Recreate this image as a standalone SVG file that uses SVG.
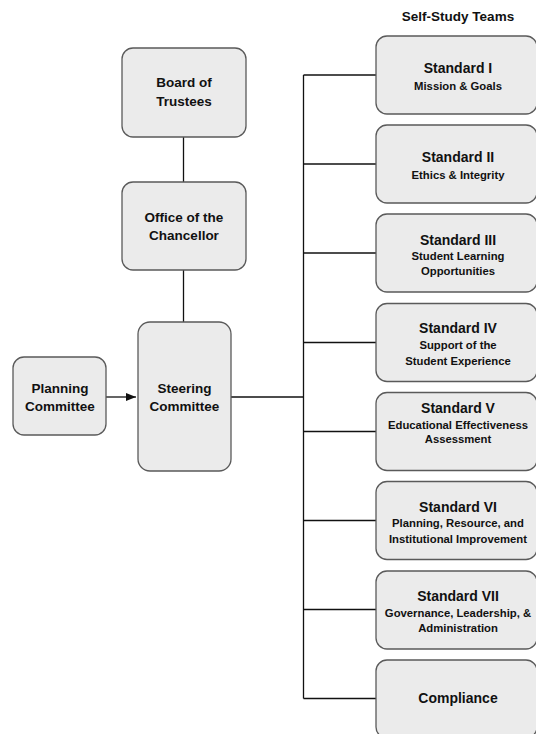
<svg xmlns="http://www.w3.org/2000/svg" width="536" height="734" viewBox="0 0 536 734">
<style>
.box{fill:#ebebeb;stroke:#5a5a5a;stroke-width:1.3}
.t{font-family:"Liberation Sans",Arial,sans-serif;font-weight:bold;fill:#111;text-anchor:middle}
.m{font-size:13.5px}
.h{font-size:14px}
.s{font-size:11.3px}
.c{fill:none;stroke:#111;stroke-width:1.3}
</style>
<defs>
<marker id="arr" markerWidth="12" markerHeight="10" refX="10" refY="4" orient="auto" markerUnits="userSpaceOnUse">
<path d="M0,0 L10,4 L0,8 Z" fill="#111"/>
</marker>
</defs>
<rect width="536" height="734" fill="#fff"/>
<text class="t" x="458" y="20.5" font-size="13.5">Self-Study Teams</text>
<g id="connectors">
<path class="c" d="M183.5,137 V182"/>
<path class="c" d="M183.5,270 V322"/>
<path class="c" d="M106,397 H136" marker-end="url(#arr)"/>
<path class="c" d="M231,397 H303.5"/>
<path class="c" d="M303.5,75 V698.5"/>
<path class="c" d="M303.5,75 H376"/>
<path class="c" d="M303.5,164 H376"/>
<path class="c" d="M303.5,253 H376"/>
<path class="c" d="M303.5,342.5 H376"/>
<path class="c" d="M303.5,431.5 H376"/>
<path class="c" d="M303.5,520.5 H376"/>
<path class="c" d="M303.5,609.5 H376"/>
<path class="c" d="M303.5,698.5 H376"/>
</g>
<g id="board">
<rect class="box" x="122" y="48" width="124" height="89" rx="11"/>
<text class="t m" x="184" y="87.3">Board of</text>
<text class="t m" x="184" y="106">Trustees</text>
</g>
<g id="chancellor">
<rect class="box" x="122" y="182" width="124" height="88" rx="11"/>
<text class="t m" x="184" y="221.7">Office of the</text>
<text class="t m" x="184" y="240">Chancellor</text>
</g>
<g id="steering">
<rect class="box" x="138" y="322" width="93" height="149" rx="12"/>
<text class="t m" x="184.5" y="393.3">Steering</text>
<text class="t m" x="184.5" y="411">Committee</text>
</g>
<g id="planning">
<rect class="box" x="13" y="357" width="93" height="78" rx="11"/>
<text class="t m" x="60" y="393.3">Planning</text>
<text class="t m" x="60" y="411">Committee</text>
</g>
<g id="std1">
<rect class="box" x="376" y="36" width="161" height="78" rx="11"/>
<text class="t h" x="458" y="73.3">Standard I</text>
<text class="t s" x="458" y="90">Mission &amp; Goals</text>
</g>
<g id="std2">
<rect class="box" x="376" y="125" width="161" height="78" rx="11"/>
<text class="t h" x="458" y="162.3">Standard II</text>
<text class="t s" x="458" y="179.3">Ethics &amp; Integrity</text>
</g>
<g id="std3">
<rect class="box" x="376" y="214" width="161" height="78" rx="11"/>
<text class="t h" x="458" y="245">Standard III</text>
<text class="t s" x="458" y="260">Student Learning</text>
<text class="t s" x="458" y="274.5">Opportunities</text>
</g>
<g id="std4">
<rect class="box" x="376" y="303.5" width="161" height="78" rx="11"/>
<text class="t h" x="458" y="333.3">Standard IV</text>
<text class="t s" x="458" y="349">Support of the</text>
<text class="t s" x="458" y="365">Student Experience</text>
</g>
<g id="std5">
<rect class="box" x="376" y="392.5" width="161" height="78" rx="11"/>
<text class="t h" x="458" y="413.3">Standard V</text>
<text class="t s" x="458" y="429">Educational Effectiveness</text>
<text class="t s" x="458" y="443.3">Assessment</text>
</g>
<g id="std6">
<rect class="box" x="376" y="481.5" width="161" height="78" rx="11"/>
<text class="t h" x="458" y="511.7">Standard VI</text>
<text class="t s" x="458" y="527.3">Planning, Resource, and</text>
<text class="t s" x="458" y="543.3">Institutional Improvement</text>
</g>
<g id="std7">
<rect class="box" x="376" y="571" width="161" height="78" rx="11"/>
<text class="t h" x="458" y="600.7">Standard VII</text>
<text class="t s" x="458" y="616.7">Governance, Leadership, &amp;</text>
<text class="t s" x="458" y="632.3">Administration</text>
</g>
<g id="compliance">
<rect class="box" x="376" y="660" width="161" height="78" rx="11"/>
<text class="t h" x="458" y="703.3">Compliance</text>
</g>
</svg>
